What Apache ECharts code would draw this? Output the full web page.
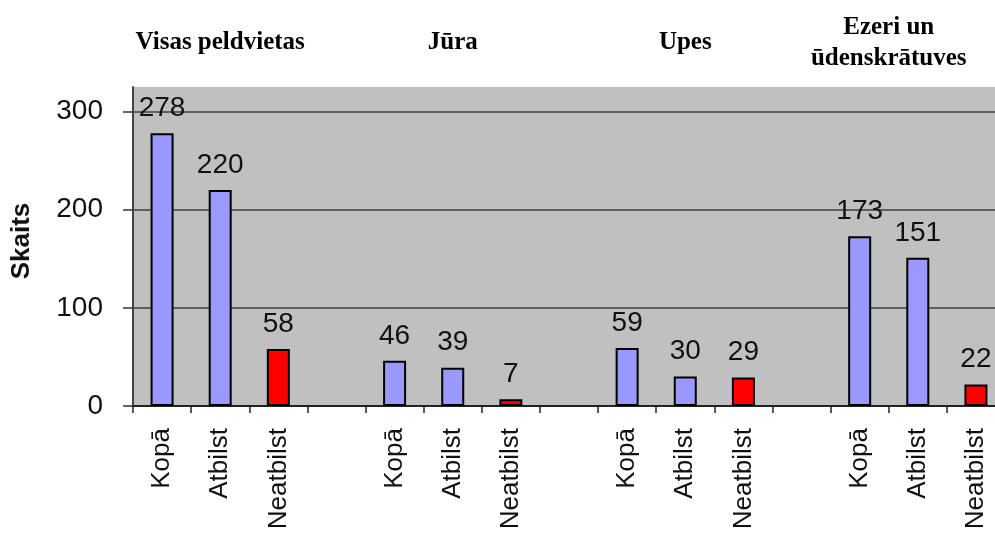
<!DOCTYPE html>
<html>
<head>
<meta charset="utf-8">
<script src="https://cdn.jsdelivr.net/npm/echarts@6/dist/echarts.min.js"></script>
<style>html,body{margin:0;padding:0;background:#fff;overflow:hidden}#c{width:1005px;height:536px}</style>
</head>
<body>
<div id="c"></div>
<script>
var categories = ['Kopā','Atbilst','Neatbilst','','Kopā','Atbilst','Neatbilst','','Kopā','Atbilst','Neatbilst','','Kopā','Atbilst','Neatbilst'];
var values = [278,220,58,null,46,39,7,null,59,30,29,null,173,151,22];
var groupTitles = ['Visas peldvietas','Jūra','Upes','Ezeri un\nūdenskrātuves'];
var groupAnchors = [[1,1],[5,5],[9,9],[12,13]];
var yTicks = [0,100,200,300];
var yName = 'Skaits';

var chart = echarts.init(document.getElementById('c'), null, {renderer:'canvas'});
var option = {
  animation:false,
  grid:{left:133, right:0, top:87, bottom:130, show:true, backgroundColor:'#c0c0c0', borderWidth:0},
  xAxis:{
    type:'category', data:categories,
    axisLine:{lineStyle:{color:'#222', width:2}},
    axisTick:{show:true, length:7, lineStyle:{color:'#222', width:1.5}},
    axisLabel:{rotate:90, margin:22, fontFamily:'Liberation Sans, Arial', fontSize:26, color:'#111', interval:0}
  },
  yAxis:{
    type:'value', min:0, max:325, interval:100,
    axisLine:{show:true, lineStyle:{color:'#444', width:2}},
    axisTick:{show:true, length:10, lineStyle:{color:'#333', width:1.5}, customValues:yTicks},
    axisLabel:{margin:30, fontFamily:'Liberation Sans, Arial', fontSize:28, color:'#111', customValues:yTicks},
    splitLine:{show:true, lineStyle:{color:'#404040', width:1.5}}
  },
  series:[{
    type:'bar', data:values, barWidth:23,
    itemStyle:{
      borderColor:'#000', borderWidth:2,
      color:function(p){ return categories[p.dataIndex]==='Neatbilst' ? '#ff0000' : '#9999ff'; }
    },
    label:{show:true, position:'top', distance:11, fontFamily:'Liberation Sans, Arial', fontSize:28, color:'#111'}
  }]
};
chart.setOption(option);

var graphics = groupTitles.map(function(t,i){
  var a = chart.convertToPixel({xAxisIndex:0}, groupAnchors[i][0]);
  var b = chart.convertToPixel({xAxisIndex:0}, groupAnchors[i][1]);
  return {type:'text', x:(a+b)/2, y:43, style:{text:t, fill:'#000', font:'bold 25px "Liberation Serif", "Times New Roman", serif', align:'center', verticalAlign:'middle', lineHeight:31}};
});
graphics.push({type:'text', x:22, y:241, rotation:Math.PI/2,
  style:{text:yName, fill:'#111', font:'bold 26px "Liberation Sans", Arial, sans-serif', align:'center', verticalAlign:'middle'}});
chart.setOption({graphic:graphics});
</script>
</body>
</html>
